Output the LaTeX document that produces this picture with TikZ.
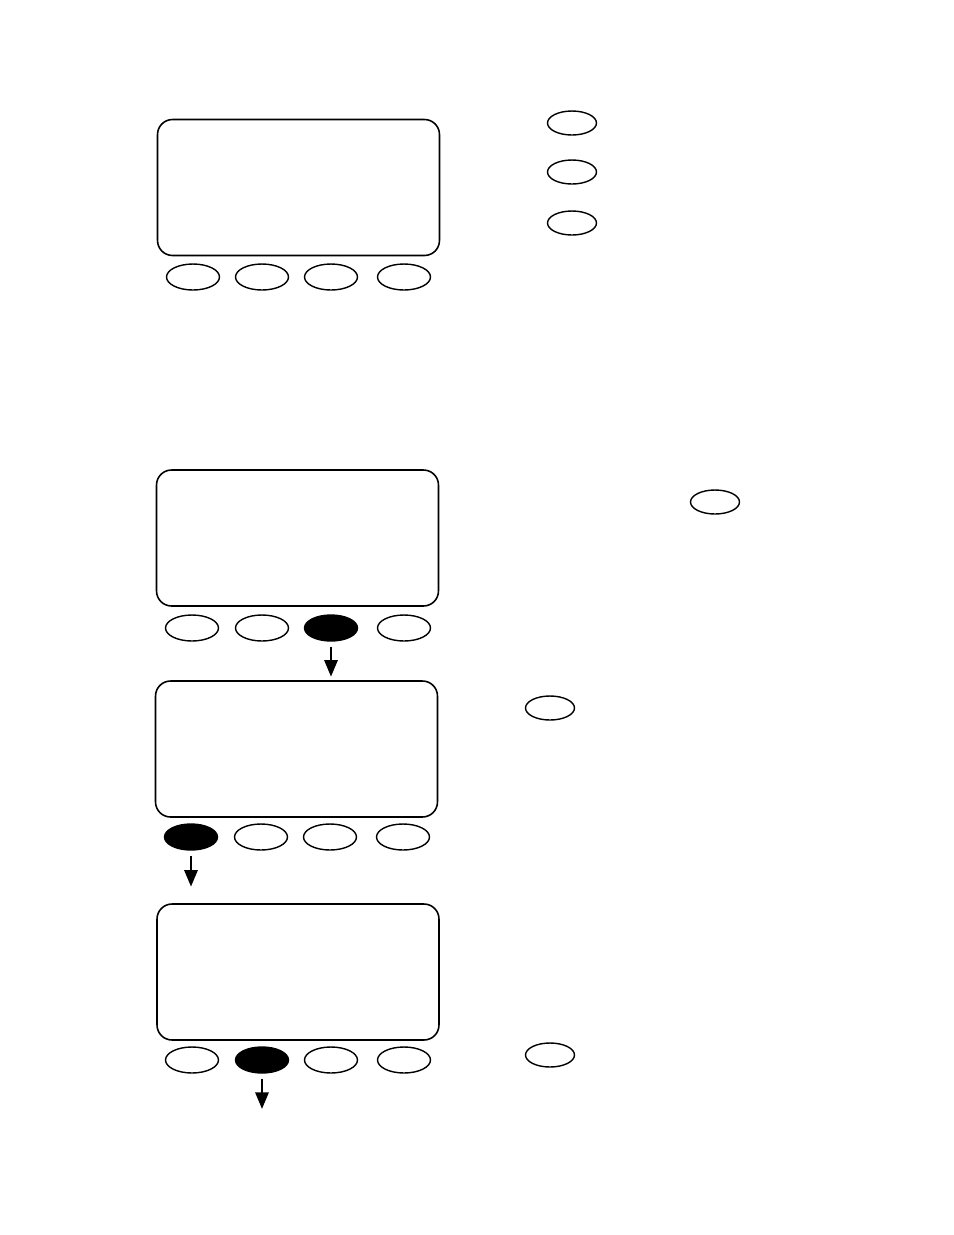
\documentclass[tikz,border=0pt]{standalone}
\usepackage{tikz}
\usetikzlibrary{positioning,calc}
\usetikzlibrary{shapes.geometric, arrows.meta}
\tikzstyle{tela} = [rectangle, rounded corners=0.3cm, draw=black, line width=0.9pt, minimum width=5.64cm, minimum height=2.72cm, inner sep=0pt]
\tikzstyle{botao} = [ellipse, draw=black, line width=0.8pt, minimum width=1.06cm, minimum height=0.52cm, inner sep=0pt]
\tikzstyle{botaocheio} = [botao, fill=black]
\tikzstyle{tecla} = [ellipse, draw=black, line width=0.8pt, minimum width=0.98cm, minimum height=0.48cm, inner sep=0pt]
\tikzstyle{seta} = [line width=1.5pt,->,>={Triangle[length=9.5pt,width=7.5pt]}]

\begin{document}
\begin{tikzpicture}[x=0.02cm,y=-0.02cm]
    \useasboundingbox (0,0) rectangle (954,1235);

    % Tela 1
    \node[tela] (tela1) at (298.5,187.5) {};
    \node[botao] (b11) at (193,277) {};
    \node[botao] (b12) at (262,277) {};
    \node[botao] (b13) at (331,277) {};
    \node[botao] (b14) at (404,277) {};
    \node[tecla] (t11) at (572,123) {};
    \node[tecla] (t12) at (572,172) {};
    \node[tecla] (t13) at (572,223) {};

    % Tela 2
    \node[tela] (tela2) at (297.5,538) {};
    \node[botao] (b21) at (192,628) {};
    \node[botao] (b22) at (262,628) {};
    \node[botaocheio] (b23) at (331,628) {};
    \node[botao] (b24) at (404,628) {};
    \node[tecla] (t21) at (715,502) {};

    % Tela 3
    \node[tela] (tela3) at (296.5,749) {};
    \node[botaocheio] (b31) at (191,837) {};
    \node[botao] (b32) at (261,837) {};
    \node[botao] (b33) at (330,837) {};
    \node[botao] (b34) at (403,837) {};
    \node[tecla] (t31) at (550,708) {};

    % Tela 4
    \node[tela] (tela4) at (298,972) {};
    \node[botao] (b41) at (192,1060) {};
    \node[botaocheio] (b42) at (262,1060) {};
    \node[botao] (b43) at (331,1060) {};
    \node[botao] (b44) at (404,1060) {};
    \node[tecla] (t41) at (550,1055) {};

    % Setas
    \coordinate (fim) at (262,1109);
    \draw[seta, shorten <=3pt, shorten >=2pt] (b23.south) -- (b23.south |- tela3.north);
    \draw[seta, shorten <=3pt] (b31.south) -- ($(b31.south)+(0,36)$);
    \draw[seta, shorten <=3pt] (b42.south) -- (fim);
\end{tikzpicture}
\end{document}
